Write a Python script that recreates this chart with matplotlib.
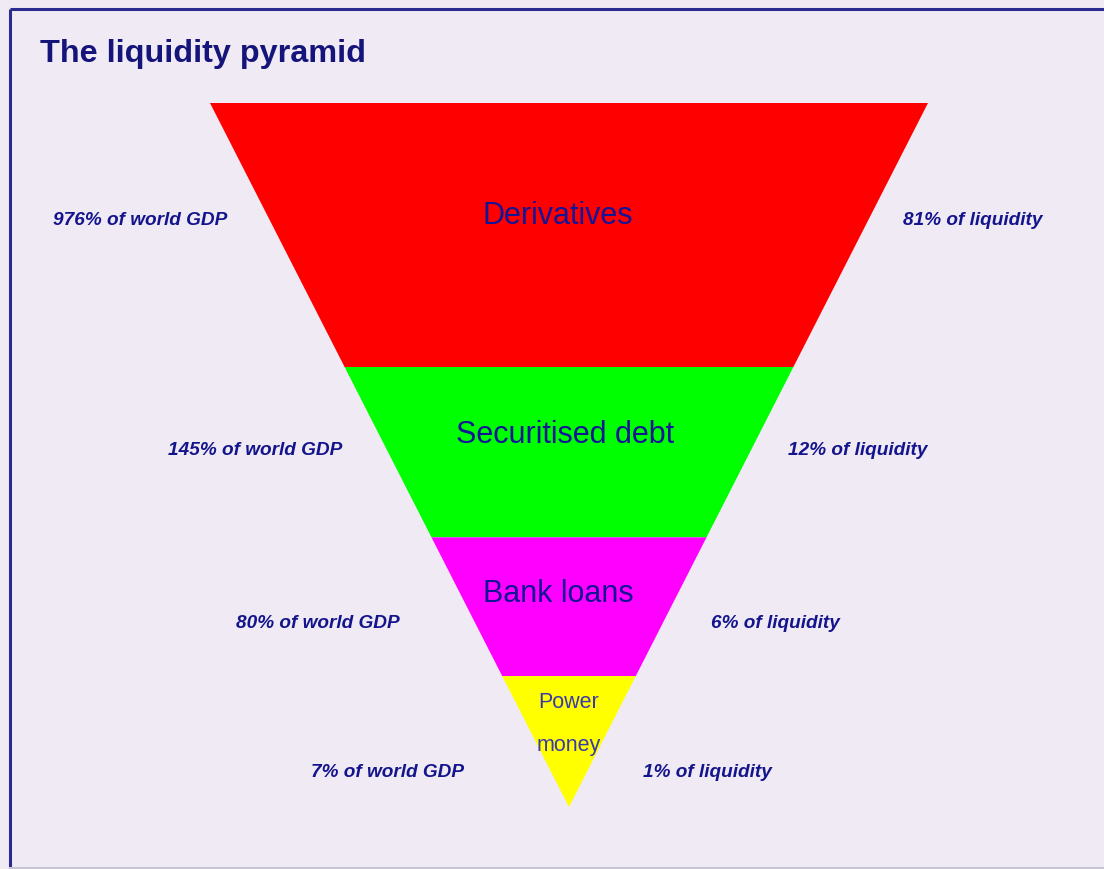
import matplotlib.pyplot as plt
from matplotlib.patches import Polygon

# --- DATA ---
TITLE = "The liquidity pyramid"
LAYERS = ["Derivatives", "Securitised debt", "Bank loans", "Power\nmoney"]
GDP_SHARE = [976, 145, 80, 7]        # % of world GDP
LIQ_SHARE = [81, 12, 6, 1]           # % of liquidity
LAYER_COLORS = ["#ff0000", "#00ff00", "#ff00ff", "#ffff00"]
# depth of each layer's lower edge, as a fraction of the pyramid height (top = 0, apex = 1)
LAYER_BOTTOM = [0.375, 0.617, 0.814, 1.0]

# --- LAYOUT (pixels, y downwards) ---
W, H = 1104, 870
TOP_Y, APEX_Y = 104, 808
TOP_L, TOP_R = 210, 928
APEX_X = (TOP_L + TOP_R) / 2
BG = "#efeaf4"
NAVY = "#14148c"
FONT = "Liberation Sans"


def edge_x(y):
    t = (y - TOP_Y) / (APEX_Y - TOP_Y)
    return TOP_L + t * (APEX_X - TOP_L), TOP_R - t * (TOP_R - APEX_X)


fig = plt.figure(figsize=(W / 100, H / 100), dpi=100)
fig.patch.set_facecolor(BG)
ax = fig.add_axes([0, 0, 1, 1])
ax.set_xlim(0, W)
ax.set_ylim(H, 0)
ax.axis("off")

# frame (left, top, bottom)
ax.plot([9.5, 9.5], [9.5, H], color="#2b2b8f", lw=2.2, solid_capstyle="butt")
ax.plot([9.5, W], [9.5, 9.5], color="#2b2b8f", lw=2.2, solid_capstyle="butt")
ax.plot([9.5, W], [868.5, 868.5], color="#c8c4d4", lw=1.5)

ax.text(40, 62, TITLE, fontsize=23.3, fontweight="bold", color="#14147a",
        family=FONT, va="baseline", ha="left")

prev = 0.0
for i, col in enumerate(LAYER_COLORS):
    y0 = TOP_Y + prev * (APEX_Y - TOP_Y)
    y1 = TOP_Y + LAYER_BOTTOM[i] * (APEX_Y - TOP_Y)
    l0, r0 = edge_x(y0)
    l1, r1 = edge_x(y1)
    if LAYER_BOTTOM[i] >= 1.0:
        pts = [(l0, y0), (r0, y0), (APEX_X, y1)]
    else:
        pts = [(l0, y0), (r0, y0), (r1, y1), (l1, y1)]
    ax.add_patch(Polygon(pts, closed=True, facecolor=col, edgecolor="none"))
    prev = LAYER_BOTTOM[i]

# layer names (baseline of each line)
name_pos = [(558, [224]), (565, [443]), (558, [602]), (569, [708, 751])]
name_size = [22, 22, 22, 15.5]
for i, name in enumerate(LAYERS):
    x, baselines = name_pos[i]
    for line, y in zip(name.split("\n"), baselines):
        ax.text(x, y, line, ha="center", va="baseline", fontsize=name_size[i],
                color="#141496" if i < 3 else "#3a3aaa", family=FONT)

# side labels
left_pos = [(227, 225), (342, 455), (400, 628), (464, 777)]
right_pos = [(903, 225), (788, 455), (711, 628), (643, 777)]
for i in range(len(LAYERS)):
    x, y = left_pos[i]
    ax.text(x, y, f"{GDP_SHARE[i]}% of world GDP", ha="right", va="baseline",
            fontsize=13.7, fontweight="bold", fontstyle="italic", color=NAVY,
            family=FONT)
    x, y = right_pos[i]
    ax.text(x, y, f"{LIQ_SHARE[i]}% of liquidity", ha="left", va="baseline",
            fontsize=13.7, fontweight="bold", fontstyle="italic", color=NAVY,
            family=FONT)

fig.savefig("out.png", dpi=100, facecolor=BG)
